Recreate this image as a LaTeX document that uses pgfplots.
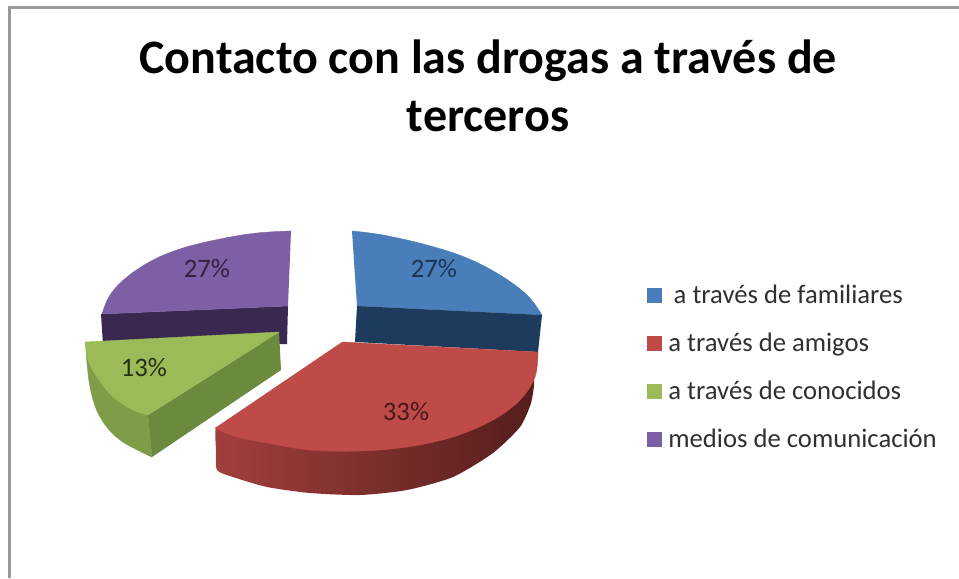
\documentclass[border=0pt]{standalone}
\usepackage{fontspec}
\setmainfont{Carlito}
\usepackage{pgfplots}
\pgfplotsset{compat=1.18}
\definecolor{blueT}{HTML}{4A7EBB}
\definecolor{blueS}{HTML}{1D3B5C}
\definecolor{redT}{HTML}{BE4B48}
\definecolor{redL}{HTML}{A23F3C}
\definecolor{redM}{HTML}{7A2E2C}
\definecolor{redD}{HTML}{551E1C}
\definecolor{greenT}{HTML}{9BBB59}
\definecolor{greenO}{HTML}{7F9C48}
\definecolor{greenI}{HTML}{6C8A3E}
\definecolor{purpT}{HTML}{7C5FA4}
\definecolor{purpS}{HTML}{3A2850}
\definecolor{txt}{HTML}{303030}
\tikzset{
    slicearc/.style={smooth, tension=0.6, fill=#1, draw=#1, line width=0.3pt},
    sliceflat/.style={fill=#1, draw=#1, line width=0.3pt},
    lbl/.style={font=\fontsize{20}{20}\selectfont, text=#1},
}
\begin{document}
\begin{tikzpicture}
\path[use as bounding box] (0,0) rectangle (719.25pt,433.5pt);
\begin{axis}[
    at={(0,0)}, anchor=south west,
    scale only axis,
    width=719.25pt, height=433.5pt,
    xmin=0, xmax=959, ymin=0, ymax=578,
    y dir=reverse,
    hide axis, clip=false,
    title={Contacto con las drogas a través de\\terceros},
    title style={at={(0.509,0.838)}, anchor=center, align=center,
        font=\fontsize{36}{43.5}\selectfont\bfseries},
    legend style={at={(0.675,0.512)}, anchor=north west, draw=none, fill=none,
        font=\fontsize{20}{20}\selectfont\color{txt},
        row sep=16.7pt, inner sep=0pt, outer sep=0pt},
    legend cell align=left,
    legend image code/.code={\fill[#1] (0pt,-5.25pt) rectangle (10.5pt,5.25pt);},
]
% frame of the pasted picture
\addplot[forget plot, color=black!40, line width=1.6pt] coordinates {(9.5,578) (9.5,7.5) (959,7.5)};

% purple side, behind the green slice
\addplot[forget plot, fill=purpS, draw=none] coordinates {(101,314) (288,306) (287,344) (103,345)};

% blue slice
\addplot[forget plot, slicearc=blueT] coordinates {(352,231) (383,235) (427,245) (467,258) (500,275) (527,295) (542,315)};
\addplot[sliceflat=blueT] coordinates {(352,231) (420,250) (500,280) (541,315) (357,306)};
\addlegendentry{\hspace{7pt}a través de familiares}
\addplot[forget plot, fill=blueS, draw=none] coordinates {(357,306) (542,315) (538,352) (355,342)};

% red slice, the top face hides the upper rim of the side
\addplot[forget plot, smooth, tension=0.4, left color=redL, middle color=redM, right color=redD, draw=none] coordinates {
    (230,425) (216,428) (216,450) (217,470) (233,477) (267,487) (310,493) (360,495) (407,490) (453,477) (493,453) (520,427) (531,403) (534,380) (525,370) (450,395) (300,420)};
\addplot[forget plot, slicearc=redT] coordinates {(538,352) (535,377) (520,400) (493,420) (453,437) (407,447) (360,451) (310,450) (267,443) (237,437) (215,428)};
\addplot[sliceflat=redT] coordinates {(342,342) (538,352) (520,395) (407,440) (267,438) (215,428)};
\addlegendentry{\hspace{3pt}a través de amigos}

% green slice
\addplot[forget plot, slicearc=greenO] coordinates {(86,350) (90,387) (100,417) (120,440) (152,457)};
\addplot[forget plot, sliceflat=greenO] coordinates {(86,350) (94,392) (122,435) (152,457) (148,415)};
\addplot[forget plot, fill=greenI, draw=none] coordinates {(148,415) (279,332) (281,370) (152,457)};
\addplot[forget plot, slicearc=greenT] coordinates {(85,342) (88,360) (97,377) (113,397) (133,410) (148,415)};
\addplot[sliceflat=greenT] coordinates {(85,342) (279,332) (148,415) (115,392) (92,362)};
\addlegendentry{\hspace{3pt}a través de conocidos}

% purple top
\addplot[forget plot, slicearc=purpT] coordinates {(291,231) (257,233) (220,239) (183,248) (153,260) (127,277) (110,295) (102,314)};
\addplot[sliceflat=purpT] coordinates {(291,231) (220,243) (153,264) (112,298) (102,314) (288,306)};
\addlegendentry{\hspace{3pt}medios de comunicación}

\node[lbl=purpS!85!black] at (axis cs:207,269) {27\%};
\node[lbl=blueS!90!black] at (axis cs:434,269) {27\%};
\node[lbl=greenI!35!black] at (axis cs:144,368) {13\%};
\node[lbl=redD!85!black] at (axis cs:406,412) {33\%};
\end{axis}
\end{tikzpicture}
\end{document}
